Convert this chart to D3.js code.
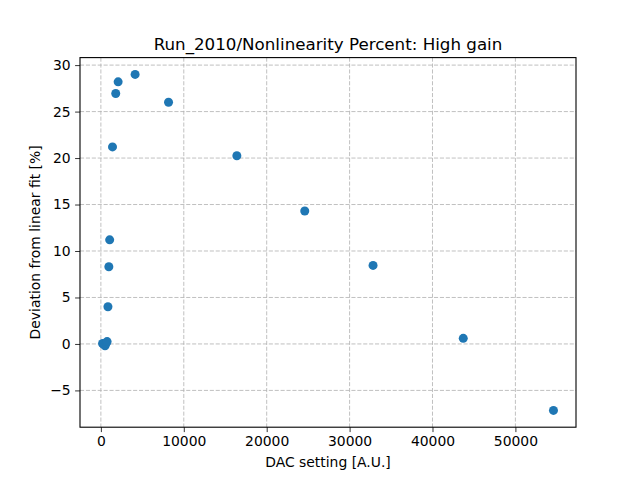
<!DOCTYPE html>
<html><head><meta charset="utf-8">
<script src="https://cdn.jsdelivr.net/npm/d3@7"></script>
<style>body{margin:0;background:#fff}</style>
</head><body>
<script>
const dacSetting = [200, 350, 500, 650, 750, 850, 960, 1060, 1400, 1790, 2080, 4130, 8160, 16400, 24590, 32830, 43710, 54590];
const deviation = [0.05, -0.05, -0.2, 0.1, 0.25, 4.0, 8.3, 11.2, 21.2, 26.95, 28.2, 29.0, 26.0, 20.25, 14.3, 8.45, 0.6, -7.15];
const xTicks = [0, 10000, 20000, 30000, 40000, 50000];
const yTicks = [-5, 0, 5, 10, 15, 20, 25, 30];
const titleText = "Run_2010/Nonlinearity Percent: High gain";
const xLabel = "DAC setting [A.U.]";
const yLabel = "Deviation from linear fit [%]";

const W = 640, H = 480;
const L = 80, R = 576, T = 57.6, B = 427.2;
const svg = d3.select("body").append("svg").attr("width", W).attr("height", H)
  .style("font-family", "DejaVu Sans");

function padded(arr){const lo=d3.min(arr),hi=d3.max(arr),m=(hi-lo)*0.05;return [lo-m,hi+m];}
const x = d3.scaleLinear().domain(padded(dacSetting)).range([L, R]);
const y = d3.scaleLinear().domain(padded(deviation)).range([B, T]);

// grid
const g = svg.append("g");
g.selectAll("line.gx").data(xTicks).enter().append("line")
  .attr("x1", d=>x(d)).attr("x2", d=>x(d)).attr("y1", T).attr("y2", B)
  .attr("stroke", "#b0b0b0").attr("stroke-width", 0.8).attr("stroke-dasharray", "4.1,1.8");
g.selectAll("line.gy").data(yTicks).enter().append("line")
  .attr("y1", d=>y(d)).attr("y2", d=>y(d)).attr("x1", L).attr("x2", R)
  .attr("stroke", "#b0b0b0").attr("stroke-width", 0.8).attr("stroke-dasharray", "4.1,1.8");

// points
svg.append("g").selectAll("circle").data(dacSetting).enter().append("circle")
  .attr("cx", (d)=>x(d)).attr("cy", (d,i)=>y(deviation[i])).attr("r", 4.5)
  .attr("fill", "#1f77b4");

// axes
const xAxis = d3.axisBottom(x).tickValues(xTicks).tickSize(4.9).tickPadding(4.5).tickFormat(d3.format("d"));
const yAxis = d3.axisLeft(y).tickValues(yTicks).tickSize(4.9).tickPadding(4.5).tickFormat(d=>d<0?"\u2212"+(-d):d);
const gx = svg.append("g").attr("transform", `translate(0,${B})`).call(xAxis);
const gy = svg.append("g").attr("transform", `translate(${L},0)`).call(yAxis);
[gx, gy].forEach(a=>{
  a.select(".domain").remove();
  a.selectAll("line").attr("stroke", "#000").attr("stroke-width", 0.8);
  a.selectAll("text").attr("fill", "#000").style("font-family", "DejaVu Sans").style("font-size", "13.9px");
});

// frame
svg.append("rect").attr("x", L).attr("y", T).attr("width", R-L).attr("height", B-T)
  .attr("fill", "none").attr("stroke", "#000").attr("stroke-width", 1.1);

svg.append("text").attr("x", (L+R)/2).attr("y", 49.5).attr("text-anchor", "middle")
  .style("font-size", "16.7px").text(titleText);
svg.append("text").attr("x", (L+R)/2).attr("y", 467).attr("text-anchor", "middle")
  .style("font-size", "13.9px").text(xLabel);
svg.append("text").attr("transform", `translate(40,${(T+B)/2}) rotate(-90)`).attr("text-anchor", "middle")
  .style("font-size", "13.9px").text(yLabel);
</script>
</body></html>
